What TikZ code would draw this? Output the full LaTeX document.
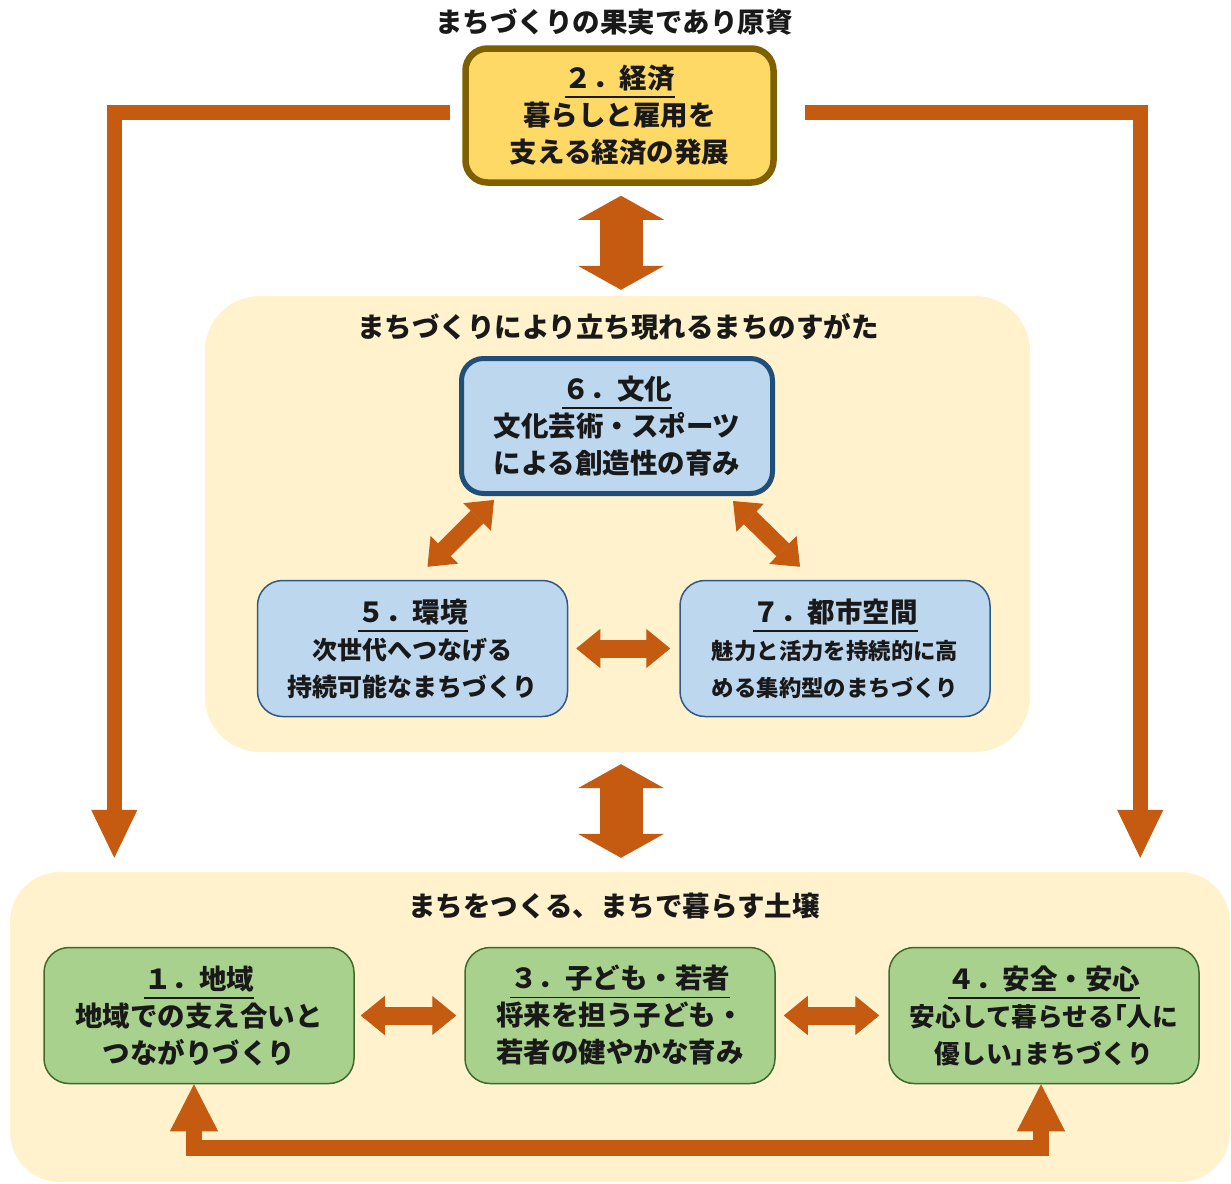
\documentclass[tikz,border=0pt]{standalone}
\usepackage{fontspec}
\setmainfont{Noto Sans CJK JP}
\usetikzlibrary{arrows.meta}
\definecolor{arr}{HTML}{C55A11}
\definecolor{cream}{HTML}{FFF2CC}
\definecolor{yfill}{HTML}{FFD966}
\definecolor{ydraw}{HTML}{7F6000}
\definecolor{bfill}{HTML}{BDD7EE}
\definecolor{bdark}{HTML}{1F4E79}
\definecolor{bthin}{HTML}{2E5A87}
\definecolor{gfill}{HTML}{A9D18E}
\definecolor{gdraw}{HTML}{3F6A2A}
\newcommand\hdr[1]{\setbox0\hbox{#1}\rlap{\rule[-9.5pt]{\wd0}{1.8pt}}\box0}
\newcommand\fsz[1]{\fontsize{#1}{37}\selectfont}
\newcommand\hw[1]{{\addfontfeature{RawFeature=+halt}#1}}
\tikzset{
  txt/.style={inner sep=0pt, align=center, font=\fontsize{27.5}{37}\selectfont\bfseries, text=black!90},
  box/.style={txt, rounded corners=22pt},
  ybox/.style={box, fill=yfill, draw=ydraw, line width=6.5pt, minimum width=308pt, minimum height=134pt},
  bbox/.style={box, fill=bfill, draw=bdark, line width=5pt, minimum width=311pt, minimum height=135pt},
  tbox/.style={box, rounded corners=25pt, fill=bfill, draw=bthin, line width=1.5pt, minimum width=310pt, minimum height=136pt},
  gbox/.style={box, rounded corners=25pt, fill=gfill, draw=gdraw, line width=1.5pt, minimum width=310pt, minimum height=136pt},
  panel/.style={fill=cream, inner sep=0pt},
  fat/.style={draw=arr, line width=15pt, line join=miter, -{Triangle[width=46pt,length=48pt,line width=1pt]}},
  fatu/.style={draw=arr, line width=16pt, line join=miter, {Triangle[width=48pt,length=47pt,line width=1pt]}-{Triangle[width=48pt,length=47pt,line width=1pt]}},
  dblv/.style={draw=arr, line width=43pt, {Triangle[width=86pt,length=24pt,line width=1pt]}-{Triangle[width=86pt,length=24pt,line width=1pt]}},
  dblh/.style={draw=arr, line width=18pt, {Triangle[width=39pt,length=24pt,line width=1pt]}-{Triangle[width=39pt,length=24pt,line width=1pt]}},
}
\begin{document}
\begin{tikzpicture}[x=1pt,y=-1pt]
\useasboundingbox (0,0) rectangle (1231,1183);
% panels
\node[panel, rounded corners=55pt, minimum width=825pt, minimum height=456pt] (mid) at (617.5,524) {};
\node[panel, rounded corners=50pt, minimum width=1220pt, minimum height=310pt] (bot) at (620,1027) {};
% titles
\node[txt] (t1) at (614,22) {まちづくりの果実であり原資};
\node[txt] (t2) at (618,327) {まちづくりにより立ち現れるまちのすがた};
\node[txt] (t3) at (614,906) {まちをつくる、まちで暮らす土壌};
% boxes
\node[ybox] (b2) at (619.5,115.5) {\hdr{２．経済}\\暮らしと雇用を\\支える経済の発展};
\node[bbox] (b6) at (617,426) {\hdr{６．文化}\\文化芸術・スポーツ\\による創造性の育み};
\node[tbox] (b5) at (412.5,648.5) {\hdr{５．環境}\\{\fsz{25}次世代へつなげる}\\{\fsz{25}持続可能なまちづくり}};
\node[tbox] (b7) at (835,648.5) {\hdr{７．都市空間}\\{\fsz{22.4}魅力と活力を持続的に高}\\{\fsz{22.4}める集約型のまちづくり}};
\node[gbox] (b1) at (199,1015.5) {\hdr{１．地域}\\地域での支え合いと\\つながりづくり};
\node[gbox] (b3) at (620,1015.5) {\hdr{３．子ども・若者}\\将来を担う子ども・\\若者の健やかな育み};
\node[gbox] (b4) at (1044,1015.5) {\hdr{４．安全・安心}\\{\fsz{25.7}安心して暮らせる\hw{「}人に}\\{\fsz{25.7}優しい\hw{」}まちづくり}};
% vertical double arrows
\draw[dblv] ([xshift=1.5pt,yshift=-10pt]b2.south) -- ([xshift=3.5pt,yshift=6pt]mid.north);
\draw[dblv] ([xshift=3.5pt,yshift=-12pt]mid.south) -- ([xshift=1pt,yshift=14pt]bot.north);
% L arrows
\draw[fat] ([xshift=-12pt,yshift=3pt]b2.west) -| ([xshift=104.5pt,yshift=14pt]bot.north west);
\draw[fat] ([xshift=28pt,yshift=3pt]b2.east) -| ([xshift=-90pt,yshift=14pt]bot.north east);
% inner arrows
\draw[dblh] ([xshift=-123pt,yshift=-4pt]b6.south) -- ([xshift=15pt,yshift=13pt]b5.north);
\draw[dblh] ([xshift=116pt,yshift=-5pt]b6.south) -- ([xshift=-35pt,yshift=13pt]b7.north);
\draw[dblh] ([xshift=8pt]b5.east) -- ([xshift=-9pt]b7.west);
\draw[dblh] ([xshift=6pt]b1.east) -- ([xshift=-8pt]b3.west);
\draw[dblh] ([xshift=8pt]b3.east) -- ([xshift=-9pt]b4.west);
% bottom U arrow
\draw[fatu] ([xshift=-5pt]b1.south) -- ++(0,64) -| ([xshift=-3pt]b4.south);
\end{tikzpicture}
\end{document}
